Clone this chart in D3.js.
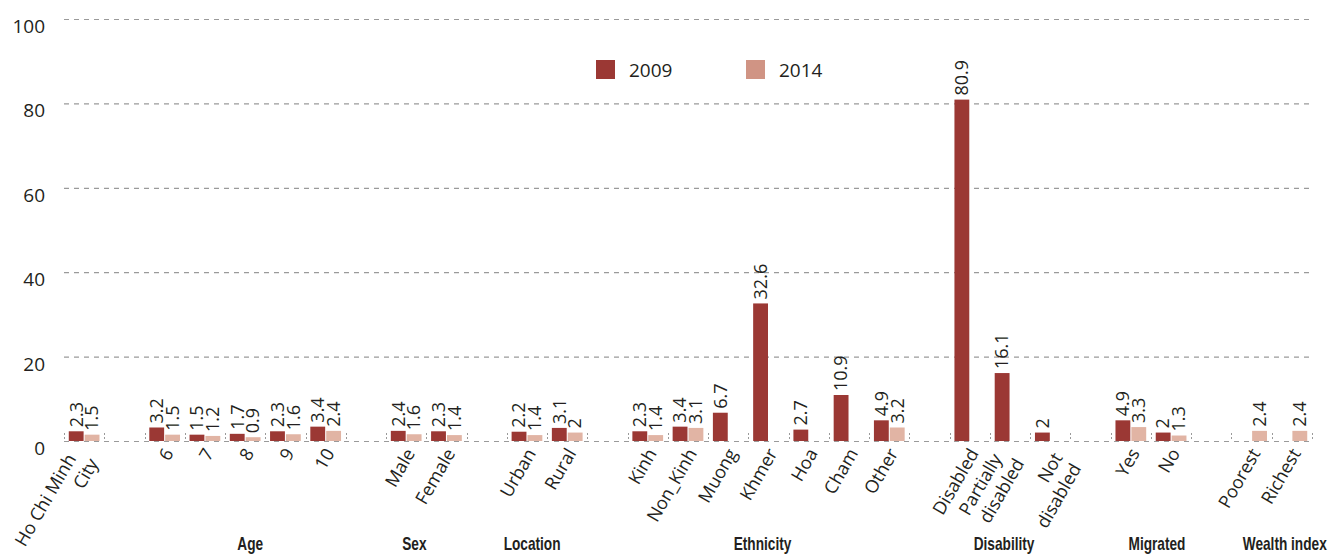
<!DOCTYPE html>
<html>
<head>
<meta charset="utf-8">
<script src="https://cdn.jsdelivr.net/npm/d3@7"></script>
<style>
  html, body { margin: 0; padding: 0; background: #fff; }
  svg { display: block; }
</style>
</head>
<body>
<svg id="chart" width="1335" height="556"></svg>
<script>
// ---- data ----
const categories = ["Ho Chi Minh\nCity", "", "6", "7", "8", "9", "10", "", "Male", "Female", "",
  "Urban", "Rural", "", "Kinh", "Non_Kinh", "Muong", "Khmer", "Hoa", "Cham", "Other", "",
  "Disabled", "Partially\ndisabled", "Not\ndisabled", "", "Yes", "No", "", "Poorest", "Richest"];
const values2009 = [2.3, null, 3.2, 1.5, 1.7, 2.3, 3.4, null, 2.4, 2.3, null,
  2.2, 3.1, null, 2.3, 3.4, 6.7, 32.6, 2.7, 10.9, 4.9, null,
  80.9, 16.1, 2, null, 4.9, 2, null, null, null];
const values2014 = [1.5, null, 1.5, 1.2, 0.9, 1.6, 2.4, null, 1.6, 1.4, null,
  1.4, 2, null, 1.4, 3.1, null, null, null, null, 3.2, null,
  null, null, null, null, 3.3, 1.3, null, 2.4, 2.4];
const seriesNames = ["2009", "2014"];
const groupNames = ["Age", "Sex", "Location", "Ethnicity", "Disability", "Migrated", "Wealth index"];
const groupFirst = [2, 8, 11, 14, 22, 26, 29];
const groupLast = [6, 9, 12, 20, 24, 27, 30];
const yTicks = [0, 20, 40, 60, 80, 100];

// ---- styles / layout ----
const barColors = {"2009": "#9b3834", "2014": "#e1b4a4"};
const legendColors = {"2009": "#9b3834", "2014": "#d09484"};
const textColor = "#231f20";
const font = "'Open Sans', 'Noto Sans', sans-serif";
const boldFont = "'Liberation Sans', Arial, sans-serif";
const groupNudge = [5, -12, -15, -6, -6, 6, 13];

const svg = d3.select("#chart");
const x = d3.scaleBand().domain(d3.range(categories.length)).range([64, 1312]);
const xs = d3.scaleBand().domain(seriesNames).range([0, x.step()]).paddingInner(0.065).paddingOuter(0.3);
const y = d3.scaleLinear().domain([0, 100]).range([441, 19]);

// gridlines
svg.append("g").selectAll("line").data(yTicks).join("line")
  .attr("x1", 64).attr("x2", 1313)
  .attr("y1", d => y(d) + 0.5).attr("y2", d => y(d) + 0.5)
  .attr("stroke", "#9a9a9a").attr("stroke-width", 1.2)
  .attr("stroke-dasharray", "5,5");

// slot boundary ticks on the zero line
svg.append("g").selectAll("line").data(d3.range(categories.length + 1)).join("line")
  .attr("x1", i => Math.round(64 + i * x.step()) + 0.5)
  .attr("x2", i => Math.round(64 + i * x.step()) + 0.5)
  .attr("y1", y(0) - 8).attr("y2", y(0))
  .attr("stroke", "#9a9a9a").attr("stroke-width", 1)
  .attr("stroke-dasharray", "2,2");

// y axis labels
svg.append("g").selectAll("text").data(yTicks).join("text")
  .attr("x", 45).attr("y", d => y(d) + 7)
  .attr("text-anchor", "end").attr("dominant-baseline", "central")
  .attr("font-family", font).attr("font-size", 19).attr("fill", textColor)
  .text(d => d);

// bars
const rows = [];
categories.forEach((c, i) => {
  [["2009", values2009[i]], ["2014", values2014[i]]].forEach(([s, v]) => {
    if (v !== null && v !== undefined) rows.push({i, s, v});
  });
});
svg.append("g").selectAll("rect").data(rows).join("rect")
  .attr("x", d => x(d.i) + xs(d.s))
  .attr("width", xs.bandwidth())
  .attr("y", d => y(d.v))
  .attr("height", d => y(0) - y(d.v))
  .attr("fill", d => barColors[d.s]);

// value labels
svg.append("g").selectAll("text").data(rows).join("text")
  .attr("transform", d => `translate(${x(d.i) + xs(d.s) + xs.bandwidth() / 2},${y(d.v) - 4}) rotate(-90)`)
  .attr("text-anchor", "start").attr("dy", "0.35em")
  .attr("font-family", font).attr("font-size", 18).attr("fill", textColor)
  .text(d => d.v);

// x category labels
const xl = svg.append("g").selectAll("text").data(categories.map((c, i) => ({c, i})).filter(d => d.c !== "")).join("text")
  .attr("transform", d => `translate(${x(d.i) + x.bandwidth() / 2 + 4},${450}) rotate(-60)`)
  .attr("text-anchor", "end")
  .attr("font-family", font).attr("font-size", 18).attr("fill", textColor);
xl.each(function(d) {
  const lines = d.c.split("\n");
  const t = d3.select(this);
  const multi = lines.length > 1;
  const shortFirst = multi && lines[0].length * 2 < lines[1].length;
  lines.forEach((ln, k) => {
    let xOff = 0, dy = "0.35em";
    if (multi) {
      if (shortFirst) { xOff = -2; dy = k === 0 ? "0.63em" : "1.2em"; }
      else { xOff = k === 0 ? -13 : -6; dy = k === 0 ? "-0.32em" : "1.2em"; }
    }
    t.append("tspan").attr("x", xOff).attr("dy", dy).text(ln);
  });
});

// group labels
svg.append("g").selectAll("text").data(groupNames.map((g, k) => ({g, k}))).join("text")
  .attr("transform", d => `translate(${(x(groupFirst[d.k]) + x(groupLast[d.k]) + x.bandwidth()) / 2 + groupNudge[d.k]},550) scale(0.76,1)`)
  .attr("text-anchor", "middle")
  .attr("font-family", boldFont).attr("font-weight", "bold").attr("font-size", 18)
  .attr("fill", textColor)
  .text(d => d.g);

// legend
const legendX = [596, 746];
const lg = svg.append("g").selectAll("g").data(seriesNames).join("g")
  .attr("transform", (d, k) => `translate(${legendX[k]},60)`);
lg.append("rect").attr("width", 19).attr("height", 19).attr("fill", d => legendColors[d]);
lg.append("text").attr("x", 33).attr("y", 10).attr("dominant-baseline", "central")
  .attr("font-family", font).attr("font-size", 19).attr("fill", textColor)
  .text(d => d);
</script>
</body>
</html>
